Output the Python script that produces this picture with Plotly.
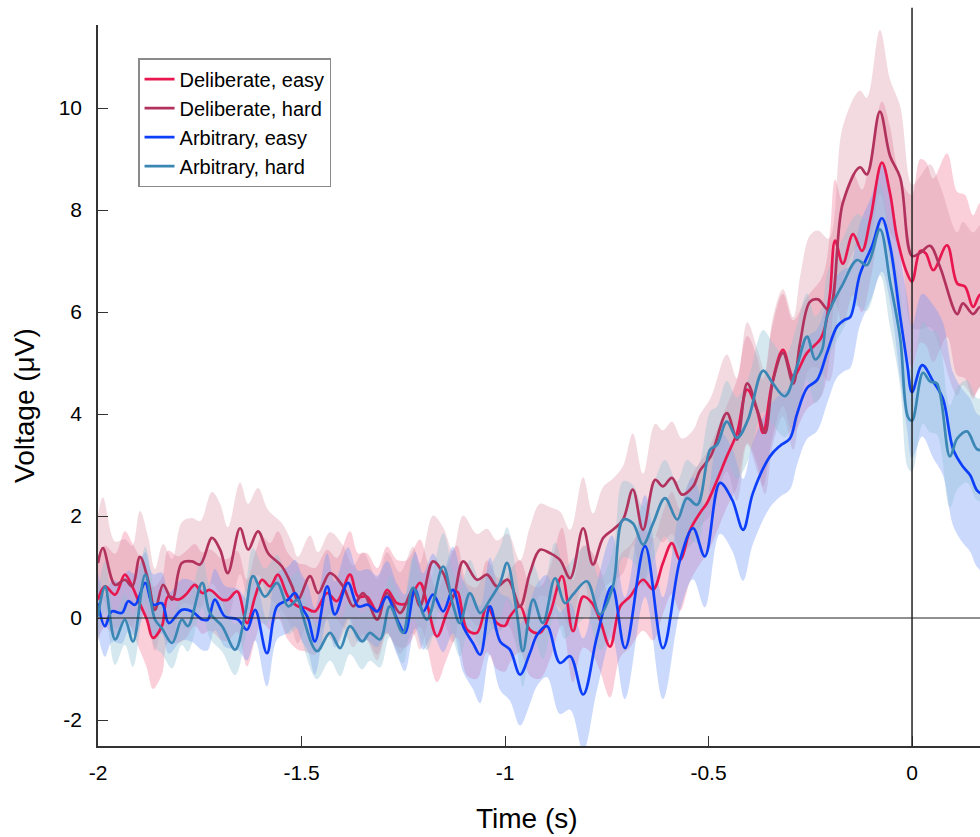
import numpy as np
import plotly.graph_objects as go

# ---------------- data ----------------
series_names = ["Deliberate, easy", "Deliberate, hard", "Arbitrary, easy", "Arbitrary, hard"]

de_t = [-2.000, -1.983, -1.958, -1.934, -1.916, -1.902, -1.880, -1.865, -1.843, -1.828, -1.803, -1.784,
        -1.762, -1.744, -1.725, -1.695, -1.681, -1.658, -1.634, -1.614, -1.597, -1.577, -1.558, -1.533,
        -1.509, -1.491, -1.467, -1.437, -1.413, -1.381, -1.361, -1.339, -1.314, -1.290, -1.265, -1.241,
        -1.209, -1.192, -1.167, -1.143, -1.118, -1.093, -1.069, -1.044, -1.020, -1.000, -0.988, -0.963,
        -0.939, -0.914, -0.889, -0.860, -0.833, -0.808, -0.786, -0.767, -0.742, -0.717, -0.693, -0.661,
        -0.636, -0.612, -0.590, -0.570, -0.545, -0.521, -0.504, -0.479, -0.455, -0.430, -0.405, -0.381,
        -0.366, -0.344, -0.317, -0.292, -0.258, -0.226, -0.214, -0.201, -0.189, -0.170, -0.145, -0.123,
        -0.103, -0.074, -0.054, -0.037, -0.012, 0.000, 0.020, 0.034, 0.052, 0.086, 0.111, 0.130, 0.150,
        0.167, 0.180]
de_v = [0.36, 0.62, 0.46, 0.85, 0.62, 0.36, -0.03, -0.39, -0.16, 0.42, 0.36, 0.46,
        0.65, 0.49, 0.55, 0.36, 0.36, 0.52, -0.10, 0.42, 0.75, 0.62, 0.85, 0.42,
        0.23, 0.20, 0.13, 0.49, 0.33, 0.85, 0.42, 0.42, 0.13, 0.55, 0.29, 0.29,
        0.69, 0.29, -0.36, 0.10, 0.52, -0.23, -0.29, 0.23, -0.10, -0.15, 0.03, 0.23,
        -0.23, -0.29, 0.10, 0.82, -0.26, 0.42, 0.29, -0.03, -0.56, 0.23, 0.42, 0.75,
        0.56, 1.08, 1.47, 1.14, 1.73, 2.06, 2.25, 2.70, 3.17, 3.63, 4.48, 4.08,
        3.63, 4.60, 5.26, 4.74, 5.20, 5.46, 5.70, 6.40, 7.40, 6.95, 7.53, 7.20,
        7.80, 8.93, 8.33, 7.47, 6.76, 6.60, 7.20, 7.15, 6.82, 7.31, 6.56, 6.50, 6.10,
        6.34, 6.30]
de_sem = [0.80, 0.80, 0.80, 0.85, 0.85, 0.90, 0.95, 1.00, 0.95, 0.90, 0.85, 0.85,
          0.80, 0.80, 0.80, 0.80, 0.80, 0.80, 0.85, 0.85, 0.85, 0.85, 0.85, 0.85,
          0.85, 0.85, 0.85, 0.85, 0.85, 0.85, 0.85, 0.85, 0.85, 0.85, 0.85, 0.85,
          0.85, 0.85, 0.90, 0.90, 0.90, 0.90, 0.90, 0.90, 0.90, 0.90, 0.90, 0.90,
          0.90, 0.90, 0.90, 0.95, 1.00, 1.00, 1.00, 1.00, 1.00, 1.00, 1.00, 1.00,
          1.00, 1.00, 1.00, 1.00, 1.00, 1.00, 1.00, 1.00, 1.00, 1.05, 1.05, 1.05,
          1.05, 1.10, 1.10, 1.10, 1.10, 1.15, 1.15, 1.20, 1.20, 1.20, 1.20, 1.20,
          1.20, 1.20, 1.30, 1.40, 1.60, 1.70, 1.80, 1.80, 1.80, 1.80, 1.80, 1.80, 1.80,
          1.80, 1.80]

dh_t = [-2.000, -1.988, -1.958, -1.934, -1.916, -1.897, -1.877, -1.860, -1.840, -1.818, -1.794, -1.769,
        -1.749, -1.720, -1.700, -1.681, -1.651, -1.631, -1.607, -1.582, -1.548, -1.523, -1.509, -1.479,
        -1.459, -1.430, -1.398, -1.373, -1.349, -1.314, -1.290, -1.258, -1.226, -1.209, -1.177, -1.152,
        -1.128, -1.103, -1.069, -1.044, -1.020, -0.993, -0.963, -0.939, -0.914, -0.889, -0.865, -0.840,
        -0.808, -0.784, -0.759, -0.735, -0.710, -0.686, -0.661, -0.631, -0.612, -0.590, -0.565, -0.538,
        -0.521, -0.494, -0.455, -0.430, -0.405, -0.378, -0.361, -0.342, -0.317, -0.292, -0.275, -0.251,
        -0.231, -0.204, -0.170, -0.128, -0.111, -0.079, -0.054, -0.029, 0.000, 0.020, 0.044, 0.069,
        0.111, 0.125, 0.150, 0.167, 0.180]
dh_v = [1.08, 1.37, 0.65, 0.75, 0.62, 1.20, 0.75, 0.16, 0.65, 0.36, 1.08, 1.11,
        1.05, 1.57, 1.34, 0.88, 1.76, 1.34, 1.70, 1.27, 1.01, 0.62, 0.35, 0.82,
        0.49, 0.88, 0.62, 0.23, 0.49, -0.03, 0.49, 0.10, 0.55, 0.23, 1.11, 0.88,
        0.42, 1.11, 0.75, 0.85, 0.62, 0.75, 0.23, 0.88, 1.34, 1.27, 1.14, 0.78,
        1.76, 1.05, 1.57, 1.73, 1.93, 2.52, 1.73, 2.71, 2.58, 2.75, 2.42, 2.58,
        2.89, 3.18, 4.02, 3.50, 4.60, 4.02, 3.63, 4.64, 5.20, 4.60, 5.40, 6.20,
        6.25, 6.04, 8.14, 8.84, 8.70, 9.93, 9.06, 8.63, 7.10, 7.16, 7.30, 6.88,
        5.96, 6.17, 5.96, 6.10, 6.00]
dh_sem = [0.95, 1.00, 0.85, 0.80, 0.80, 0.90, 0.85, 0.80, 0.80, 0.80, 0.80, 0.85,
          0.85, 0.90, 0.90, 0.90, 0.90, 0.90, 0.85, 0.85, 0.85, 0.85, 0.85, 0.80,
          0.80, 0.80, 0.80, 0.80, 0.80, 0.80, 0.80, 0.80, 0.85, 0.85, 0.90, 0.90,
          0.90, 0.90, 0.90, 0.90, 0.90, 0.90, 0.90, 0.90, 0.90, 0.90, 0.95, 0.95,
          1.00, 1.00, 1.00, 1.00, 1.05, 1.10, 1.10, 1.10, 1.10, 1.10, 1.10, 1.10,
          1.10, 1.15, 1.15, 1.20, 1.20, 1.20, 1.20, 1.25, 1.25, 1.30, 1.30, 1.30,
          1.35, 1.40, 1.50, 1.50, 1.50, 1.60, 1.50, 1.40, 1.40, 1.50, 1.60, 1.60,
          1.60, 1.60, 1.60, 1.60, 1.60]

ae_t = [-2.000, -1.983, -1.966, -1.941, -1.926, -1.909, -1.884, -1.865, -1.843, -1.826, -1.794, -1.769,
        -1.744, -1.730, -1.713, -1.688, -1.656, -1.634, -1.614, -1.585, -1.560, -1.533, -1.516, -1.499,
        -1.484, -1.467, -1.437, -1.418, -1.386, -1.361, -1.337, -1.314, -1.290, -1.265, -1.246, -1.221,
        -1.201, -1.177, -1.152, -1.128, -1.103, -1.079, -1.061, -1.037, -1.012, -0.988, -0.963, -0.939,
        -0.921, -0.897, -0.865, -0.840, -0.808, -0.774, -0.737, -0.705, -0.656, -0.612, -0.570, -0.538,
        -0.509, -0.472, -0.442, -0.415, -0.391, -0.349, -0.324, -0.300, -0.283, -0.258, -0.233, -0.209,
        -0.184, -0.165, -0.152, -0.128, -0.098, -0.074, -0.054, -0.029, -0.012, 0.000, 0.025, 0.052,
        0.076, 0.101, 0.125, 0.143, 0.160, 0.180]
ae_v = [0.29, -0.16, 0.13, 0.10, 0.33, 0.26, 0.69, 0.26, 0.29, -0.10, 0.16, 0.13,
        -0.03, -0.03, 0.36, 0.03, -0.03, -0.23, 0.16, -0.69, 0.23, 0.36, 0.49, 0.20,
        0.00, -0.46, 0.62, 0.07, 0.69, 0.23, 0.26, 0.13, 0.42, -0.03, -0.29, 0.55,
        0.13, 0.46, 0.13, 0.55, -0.16, -0.49, -0.72, 0.23, -0.46, -0.62, -1.11, -0.69,
        -0.33, -0.16, -0.88, -0.75, -1.50, -0.36, 0.62, -0.59, 1.41, -0.59, 1.14, 1.76,
        1.21, 2.65, 2.32, 1.73, 2.45, 3.17, 3.38, 3.52, 3.99, 4.51, 4.67, 5.20,
        5.72, 5.85, 5.90, 6.74, 7.30, 7.84, 7.30, 5.90, 4.99, 4.43, 4.96, 4.64,
        4.30, 3.31, 2.97, 2.80, 2.50, 2.40]
ae_sem = [0.60, 0.60, 0.60, 0.60, 0.60, 0.60, 0.60, 0.60, 0.60, 0.60, 0.60, 0.60,
          0.60, 0.60, 0.60, 0.60, 0.60, 0.60, 0.60, 0.65, 0.65, 0.65, 0.65, 0.65,
          0.65, 0.65, 0.65, 0.65, 0.70, 0.70, 0.70, 0.70, 0.70, 0.70, 0.75, 0.75,
          0.75, 0.80, 0.80, 0.85, 0.90, 0.90, 0.95, 0.95, 0.95, 1.00, 1.00, 1.00,
          1.00, 1.00, 1.00, 1.05, 1.10, 1.05, 1.00, 1.00, 1.00, 1.00, 1.00, 1.00,
          1.00, 1.00, 1.00, 1.00, 1.00, 1.00, 1.00, 1.00, 1.00, 1.00, 1.00, 1.00,
          1.00, 1.00, 1.00, 1.00, 1.00, 1.05, 1.10, 1.20, 1.30, 1.30, 1.40, 1.50,
          1.50, 1.50, 1.50, 1.50, 1.50, 1.50]

ah_t = [-2.000, -1.983, -1.958, -1.934, -1.914, -1.884, -1.860, -1.843, -1.818, -1.794, -1.779, -1.744,
        -1.725, -1.695, -1.663, -1.638, -1.619, -1.590, -1.560, -1.533, -1.509, -1.499, -1.462, -1.430,
        -1.405, -1.381, -1.351, -1.332, -1.307, -1.283, -1.251, -1.226, -1.192, -1.152, -1.128, -1.111,
        -1.086, -1.061, -1.037, -1.012, -0.995, -0.971, -0.956, -0.931, -0.907, -0.877, -0.853, -0.833,
        -0.799, -0.767, -0.735, -0.710, -0.686, -0.661, -0.636, -0.607, -0.577, -0.553, -0.528, -0.496,
        -0.479, -0.455, -0.430, -0.403, -0.366, -0.342, -0.312, -0.283, -0.258, -0.238, -0.221, -0.209,
        -0.170, -0.135, -0.111, -0.079, -0.054, -0.029, -0.010, 0.000, 0.027, 0.044, 0.061, 0.093,
        0.111, 0.135, 0.160, 0.180]
ah_v = [0.03, 0.62, -0.42, -0.03, -0.46, 0.85, -0.03, -0.20, -0.49, -0.03, -0.16, 0.69,
        0.10, -0.16, -0.62, 0.10, 0.82, 0.42, 0.69, 0.23, 0.36, 0.10, -0.65, -0.29,
        -0.59, -0.16, -0.46, -0.29, -0.42, 0.23, -0.29, 0.59, -0.03, 1.01, 0.26, -0.10,
        0.49, 0.10, 0.36, 0.69, 1.08, 0.10, -0.65, 0.36, -0.10, 0.78, 0.29, 0.46,
        0.72, 0.07, 0.62, 1.93, 1.86, 1.44, 1.86, 2.35, 1.93, 2.35, 2.22, 3.30,
        3.40, 3.85, 3.53, 3.89, 4.85, 4.60, 4.35, 4.93, 5.52, 5.07, 5.26, 5.90,
        6.55, 7.02, 6.92, 7.62, 6.60, 5.48, 3.94, 3.87, 4.81, 4.64, 4.60, 3.17,
        3.52, 3.66, 3.31, 3.30]
ah_sem = [0.50, 0.50, 0.50, 0.50, 0.50, 0.55, 0.55, 0.50, 0.50, 0.50, 0.50, 0.50,
          0.50, 0.50, 0.50, 0.50, 0.55, 0.55, 0.55, 0.55, 0.55, 0.55, 0.55, 0.55,
          0.55, 0.55, 0.55, 0.55, 0.55, 0.60, 0.60, 0.60, 0.60, 0.65, 0.65, 0.65,
          0.65, 0.65, 0.65, 0.70, 0.70, 0.70, 0.70, 0.70, 0.70, 0.70, 0.70, 0.70,
          0.70, 0.70, 0.70, 0.75, 0.75, 0.75, 0.75, 0.75, 0.75, 0.75, 0.75, 0.75,
          0.75, 0.80, 0.80, 0.80, 0.80, 0.80, 0.80, 0.80, 0.85, 0.85, 0.85, 0.85,
          0.90, 0.90, 0.90, 0.90, 0.90, 0.95, 1.00, 1.00, 1.00, 1.00, 1.00, 1.00,
          1.00, 1.00, 1.00, 1.00]

x_tickvals = [-2, -1.5, -1, -0.5, 0]
x_ticktext = ["-2", "-1.5", "-1", "-0.5", "0"]
y_tickvals = [-2, 0, 2, 4, 6, 8, 10]
y_ticktext = ["-2", "0", "2", "4", "6", "8", "10"]
x_title = "Time (s)"
y_title = "Voltage (μV)"

# ---------------- styles ----------------
line_colors = ["#e8174f", "#b2325e", "#0d3ffa", "#3a86b4"]
band_colors = ["rgba(245,150,175,0.46)", "rgba(215,140,160,0.32)",
               "rgba(110,150,250,0.36)", "rgba(140,190,210,0.36)"]

all_series = [(de_t, de_v, de_sem), (dh_t, dh_v, dh_sem),
              (ae_t, ae_v, ae_sem), (ah_t, ah_v, ah_sem)]

fig = go.Figure()

# bands
for (t, v, s), bc in zip(all_series, band_colors):
    t = np.array(t); v = np.array(v); s = np.array(s)
    up = v + s
    lo = v - s
    fig.add_trace(go.Scatter(
        x=np.concatenate([t, t[::-1]]),
        y=np.concatenate([up, lo[::-1]]),
        fill="toself", fillcolor=bc, mode="lines",
        line=dict(width=0, shape="spline", smoothing=1.0),
        showlegend=False, hoverinfo="skip"))

# mean lines
for (t, v, s), lc, nm in zip(all_series, line_colors, series_names):
    fig.add_trace(go.Scatter(
        x=t, y=v, mode="lines", name=nm,
        line=dict(color=lc, width=2.7, shape="spline", smoothing=1.0)))

# zero reference lines above the data
fig.add_shape(type="line", xref="paper", yref="y", x0=0, x1=1, y0=0, y1=0,
              line=dict(color="#222", width=1.2), layer="above")
fig.add_shape(type="line", xref="x", yref="paper", x0=0, x1=0, y0=0, y1=1.024,
              line=dict(color="#222", width=1.5), layer="above")

font_family = "Liberation Sans, Arial, Helvetica, sans-serif"

# axis titles placed as annotations
fig.add_annotation(text=y_title, xref="paper", yref="paper", x=-0.0828, y=0.473,
                   textangle=-90, showarrow=False, xanchor="center", yanchor="middle",
                   font=dict(size=28, family=font_family, color="black"))
fig.add_annotation(text=x_title, xref="paper", yref="paper", x=0.486, y=-0.1,
                   showarrow=False, xanchor="center", yanchor="middle",
                   font=dict(size=28, family=font_family, color="black"))

fig.update_layout(
    width=980, height=837,
    margin=dict(l=98, r=0, t=25, b=91),
    paper_bgcolor="white", plot_bgcolor="white",
    font=dict(family=font_family, size=21, color="black"),
    showlegend=True,
    legend=dict(x=0.0454, y=0.954, xanchor="left", yanchor="top",
                bgcolor="white", bordercolor="#8a8a8a", borderwidth=1.5,
                font=dict(size=20, family=font_family, color="black"),
                itemwidth=30, traceorder="normal"),
    xaxis=dict(range=[-2, 0.167], tickvals=x_tickvals, ticktext=x_ticktext,
               ticks="inside", ticklen=10, tickcolor="#333", showgrid=False, zeroline=False,
               showline=True, linecolor="#333", linewidth=1.5,
               tickfont=dict(size=21), ticklabelstandoff=7),
    yaxis=dict(range=[-2.51, 11.63], tickvals=y_tickvals, ticktext=y_ticktext,
               ticks="inside", ticklen=10, tickcolor="#333", showgrid=False, zeroline=False,
               showline=True, linecolor="#333", linewidth=1.5,
               tickfont=dict(size=21), ticklabelstandoff=10),
)

fig.write_html("out.html",
               config={"displayModeBar": False},
               post_script="document.body.style.margin='0';document.body.style.overflow='hidden';")
